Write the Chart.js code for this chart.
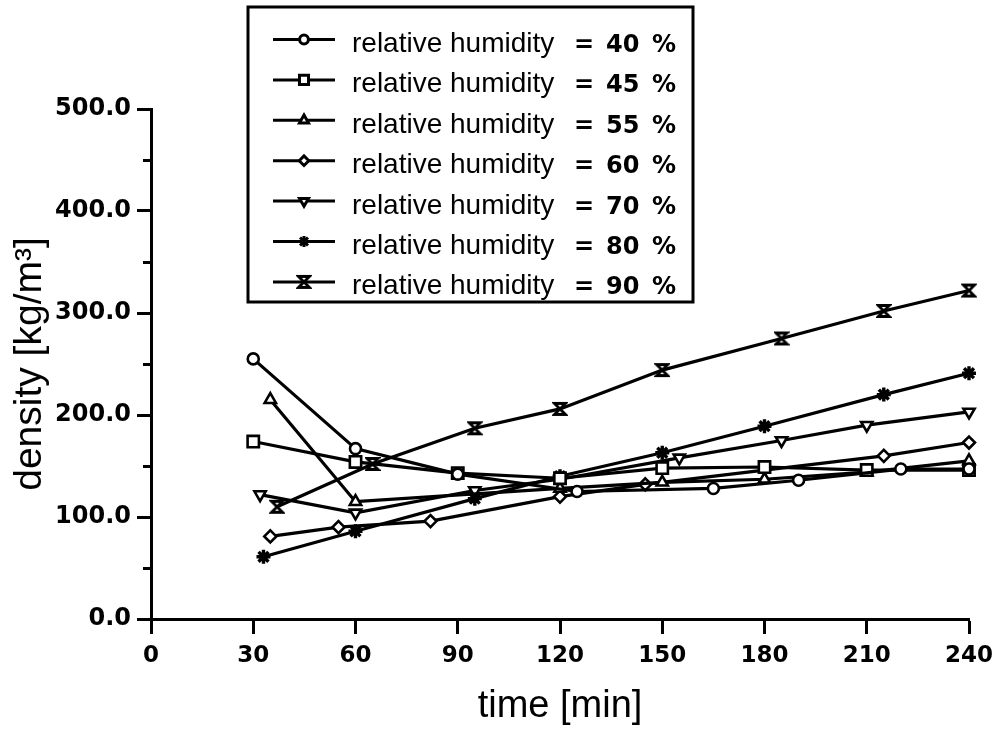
<!DOCTYPE html>
<html>
<head>
<meta charset="utf-8">
<script src="https://cdn.jsdelivr.net/npm/chart.js@4/dist/chart.umd.min.js"></script>
<style>
  html, body { margin: 0; padding: 0; background: #ffffff; }
  #wrap { width: 998px; height: 729px; }
</style>
</head>
<body>
<div id="wrap"><canvas id="c" width="998" height="729"></canvas></div>
<script>
// Relative humidity of each series (%)
const humidity = [40, 45, 55, 60, 70, 80, 90];

// Measured density [kg/m3] against time [min], one pair of arrays per series
const time40 = [30, 60, 90, 125, 165, 190, 220, 240];
const dens40 = [255, 167, 142, 125, 128, 136, 147, 147];

const time45 = [30, 60, 90, 120, 150, 180, 210, 240];
const dens45 = [174, 154, 143, 138, 148, 149, 146, 146];

const time55 = [35, 60, 120, 150, 180, 210, 240];
const dens55 = [215, 115, 128, 134, 137, 144, 155];

const time60 = [35, 55, 82, 120, 145, 215, 240];
const dens60 = [81, 90, 96, 120, 132, 160, 173];

const time70 = [32, 60, 95, 120, 155, 185, 210, 240];
const dens70 = [122, 104, 126, 137, 158, 175, 190, 203];

const time80 = [33, 60, 95, 120, 150, 180, 215, 240];
const dens80 = [61, 86, 118, 140, 163, 189, 220, 241];

const time90 = [37, 65, 95, 120, 150, 185, 215, 240];
const dens90 = [110, 152, 187, 206, 244, 275, 302, 322];

// Axis ticks
const xTicks = [0, 30, 60, 90, 120, 150, 180, 210, 240];
const yTicks = [0, 100, 200, 300, 400, 500];
const yMinorTicks = [50, 150, 250, 350, 450];

// Hourglass marker, drawn once onto a small canvas
function hourglass(r, lw) {
  const s = Math.ceil(2 * r + lw + 2);
  const c = document.createElement('canvas');
  c.width = s; c.height = s;
  const g = c.getContext('2d');
  const m = s / 2;
  g.beginPath();
  g.moveTo(m - r, m - r);
  g.lineTo(m + r, m - r);
  g.lineTo(m - r, m + r);
  g.lineTo(m + r, m + r);
  g.closePath();
  g.fillStyle = '#ffffff';
  g.fill();
  g.lineWidth = lw;
  g.lineJoin = 'miter';
  g.strokeStyle = '#000000';
  g.stroke();
  return c;
}
const hourglassImg = hourglass(5.5, 2.8);

const markers = [
  { pointStyle: 'circle',   radius: 5.5, rotation: 0,   borderWidth: 2.6 },
  { pointStyle: 'rect',     radius: 8,   rotation: 0,   borderWidth: 2.6 },
  { pointStyle: 'triangle', radius: 6.5, rotation: 0,   borderWidth: 2.6 },
  { pointStyle: 'rectRot',  radius: 6,   rotation: 0,   borderWidth: 2.6 },
  { pointStyle: 'triangle', radius: 6.5, rotation: 180, borderWidth: 2.6 },
  { pointStyle: 'star',     radius: 7,   rotation: 0,   borderWidth: 3.4 },
  { pointStyle: hourglassImg, radius: 6, rotation: 0,   borderWidth: 2.6 }
];

const seriesTimes = [time40, time45, time55, time60, time70, time80, time90];
const seriesDens  = [dens40, dens45, dens55, dens60, dens70, dens80, dens90];

const datasets = humidity.map((h, i) => ({
  label: 'relative humidity = ' + h + ' %',
  data: seriesTimes[i].map((t, k) => ({ x: t, y: seriesDens[i][k] })),
  borderColor: '#000000',
  borderWidth: 3.2,
  tension: 0,
  fill: false,
  clip: false,
  pointStyle: markers[i].pointStyle,
  pointRadius: markers[i].radius,
  pointRotation: markers[i].rotation,
  pointBorderWidth: markers[i].borderWidth,
  pointBorderColor: '#000000',
  pointBackgroundColor: '#ffffff',
  pointHoverRadius: markers[i].radius
}));

// Short minor ticks on the density axis
const minorTicks = {
  id: 'minorTicks',
  afterDraw(chart) {
    const y = chart.scales.y;
    const ctx = chart.ctx;
    ctx.save();
    ctx.strokeStyle = '#000000';
    ctx.lineWidth = 3;
    yMinorTicks.forEach(v => {
      const py = Math.round(y.getPixelForValue(v)) + 0.5;
      ctx.beginPath();
      ctx.moveTo(y.right - 8, py);
      ctx.lineTo(y.right, py);
      ctx.stroke();
    });
    ctx.restore();
  }
};

// Boxed legend in the upper part of the figure
const boxLegend = {
  id: 'boxLegend',
  afterDraw(chart) {
    const ctx = chart.ctx;
    ctx.save();
    ctx.strokeStyle = '#000000';
    ctx.lineWidth = 3;
    ctx.strokeRect(248, 7, 445, 295);
    chart.data.datasets.forEach((ds, i) => {
      const ly = 39.5 + i * 40.4;
      ctx.strokeStyle = '#000000';
      ctx.lineWidth = 3;
      ctx.beginPath();
      ctx.moveTo(273, ly);
      ctx.lineTo(335, ly);
      ctx.stroke();
      ctx.fillStyle = '#ffffff';
      ctx.strokeStyle = '#000000';
      Chart.helpers.drawPoint(ctx, {
        pointStyle: ds.pointStyle,
        radius: ds.pointRadius * 0.8,
        rotation: ds.pointRotation,
        borderWidth: ds.pointBorderWidth
      }, 304, ly);
      const base = ly + 12.5;
      ctx.fillStyle = '#000000';
      ctx.textBaseline = 'alphabetic';
      ctx.textAlign = 'left';
      ctx.font = '28px "Liberation Sans", Arial, sans-serif';
      ctx.fillText('relative humidity', 352, base);
      ctx.font = 'bold 24px "DejaVu Sans", sans-serif';
      ctx.textAlign = 'center';
      ctx.fillText('=', 584, base);
      ctx.textAlign = 'left';
      ctx.fillText(String(humidity[i]), 606, base);
      ctx.textAlign = 'center';
      ctx.fillText('%', 664, base);
    });
    ctx.restore();
  }
};

new Chart(document.getElementById('c'), {
  type: 'line',
  data: { datasets },
  options: {
    responsive: false,
    animation: false,
    events: [],
    layout: { padding: { left: 0, right: 29, top: 109, bottom: 0 } },
    plugins: {
      legend: { display: false },
      tooltip: { enabled: false },
      title: { display: false }
    },
    scales: {
      x: {
        type: 'linear',
        min: 0,
        max: 240,
        afterBuildTicks: s => { s.ticks = xTicks.map(v => ({ value: v })); },
        afterFit: s => { s.height = 110; s.paddingLeft = 0; s.paddingRight = 0; },
        border: { display: true, color: '#000000', width: 3 },
        grid: { display: true, drawOnChartArea: false, drawTicks: true, tickLength: 15, tickWidth: 3, tickColor: '#000000' },
        ticks: {
          color: '#000000',
          padding: 8,
          maxRotation: 0,
          autoSkip: false,
          font: { family: '"DejaVu Sans", sans-serif', size: 23, weight: 'bold' }
        },
        title: {
          display: true,
          text: 'time [min]',
          color: '#000000',
          font: { family: '"Liberation Sans", Arial, sans-serif', size: 38, weight: 'normal' },
          padding: { top: 0, bottom: 0 }
        }
      },
      y: {
        type: 'linear',
        min: 0,
        max: 500,
        afterBuildTicks: s => { s.ticks = yTicks.map(v => ({ value: v })); },
        afterFit: s => { s.width = 151; s.paddingTop = 0; s.paddingBottom = 0; },
        border: { display: true, color: '#000000', width: 3 },
        grid: { display: true, drawOnChartArea: false, drawTicks: true, tickLength: 14, tickWidth: 3, tickColor: '#000000' },
        ticks: {
          color: '#000000',
          padding: 6,
          autoSkip: false,
          callback: v => Number(v).toFixed(1),
          font: { family: '"DejaVu Sans", sans-serif', size: 24, weight: 'bold' }
        },
        title: {
          display: true,
          text: 'density [kg/m³]',
          color: '#000000',
          font: { family: '"Liberation Sans", Arial, sans-serif', size: 39, weight: 'normal' },
          padding: { top: 7, bottom: 0 }
        }
      }
    }
  },
  plugins: [minorTicks, boxLegend]
});
</script>
</body>
</html>
